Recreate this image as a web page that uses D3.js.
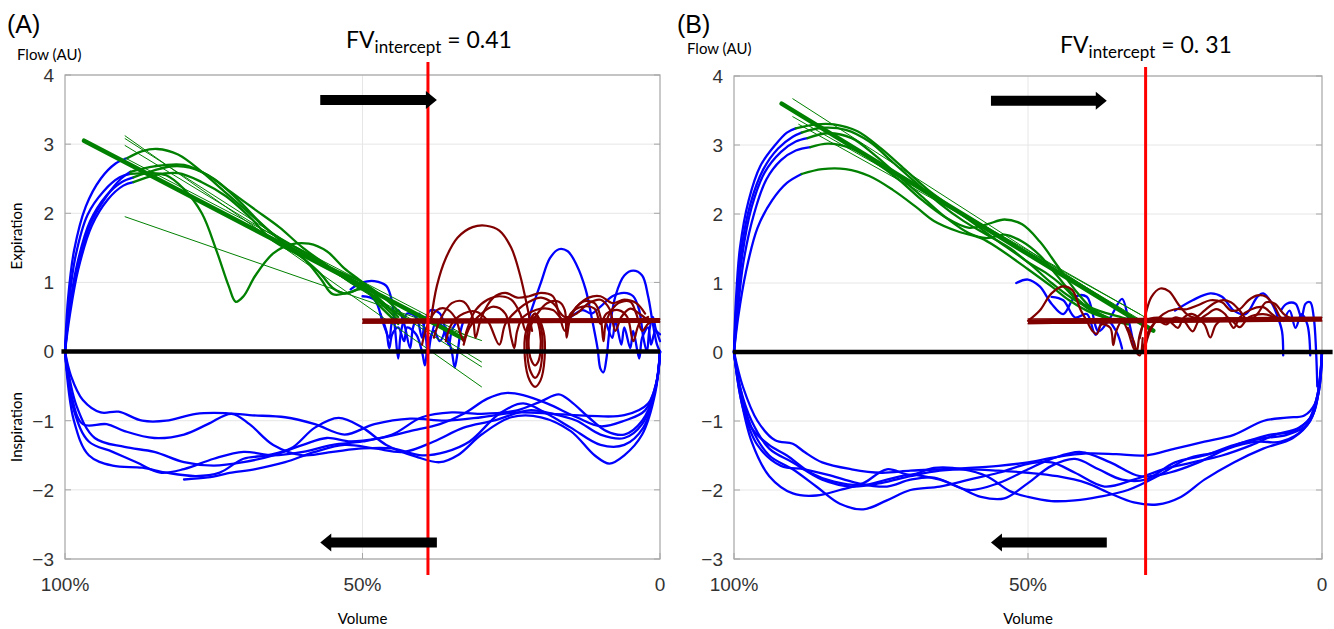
<!DOCTYPE html>
<html>
<head>
<meta charset="UTF-8">
<style>
  body { margin: 0; background: #fff; }
  svg text { font-family: "Liberation Sans", Arial, sans-serif; }
  svg text.cal { font-family: Lato, "Open Sans", sans-serif; }
</style>
</head>
<body>
<svg id="chart" width="1334" height="629"></svg>
<script src="https://d3js.org/d3.v7.min.js"></script>
<script>
// axes
const flowTicks = [-3, -2, -1, 0, 1, 2, 3, 4];
const volTicks = [1, 0.5, 0];
const volTickLabels = ["100%", "50%", "0"];

// ---------- panel A ----------
const aIntercept = 0.39;
const aTitleValue = "= 0.41";
const aRise = [
  [[1,0],[0.995,0.75],[0.985,1.45],[0.965,2.1],[0.94,2.5],[0.915,2.72],[0.895,2.8]],
  [[1,0],[0.994,0.65],[0.983,1.35],[0.962,1.98],[0.935,2.32],[0.908,2.52],[0.89,2.57]],
  [[1,0],[0.993,0.58],[0.98,1.25],[0.958,1.88],[0.93,2.26],[0.905,2.45],[0.885,2.52]],
  [[1,0],[0.992,0.52],[0.978,1.18],[0.955,1.82],[0.928,2.2],[0.902,2.4],[0.885,2.45]],
  [[1,0],[0.993,0.55],[0.979,1.22],[0.957,1.85],[0.93,2.25],[0.906,2.5],[0.89,2.6]]
];
const aGreen = [
  [[0.895,2.8],[0.87,2.9],[0.845,2.93],[0.81,2.85],[0.77,2.6],[0.73,2.3],[0.69,2.0],[0.65,1.7],[0.6,1.45],[0.55,1.2],[0.5,1.0],[0.46,0.75],[0.43,0.5]],
  [[0.89,2.57],[0.86,2.58],[0.83,2.55],[0.8,2.35],[0.77,2.0],[0.745,1.45],[0.725,0.95],[0.713,0.72],[0.70,0.8],[0.68,1.1],[0.65,1.42],[0.62,1.55],[0.59,1.56],[0.56,1.45],[0.53,1.2],[0.5,1.0],[0.47,0.75],[0.44,0.5]],
  [[0.885,2.52],[0.85,2.62],[0.82,2.68],[0.79,2.66],[0.75,2.5],[0.71,2.2],[0.67,1.85],[0.63,1.55],[0.6,1.35],[0.57,1.12],[0.55,0.92],[0.53,0.84],[0.5,0.9],[0.47,0.7],[0.44,0.45]],
  [[0.885,2.45],[0.85,2.55],[0.81,2.58],[0.77,2.45],[0.73,2.25],[0.69,1.95],[0.65,1.6],[0.6,1.35],[0.57,1.05],[0.55,0.83],[0.52,0.86],[0.5,0.92],[0.47,0.65],[0.44,0.4]],
  [[0.89,2.6],[0.85,2.68],[0.8,2.7],[0.76,2.55],[0.72,2.3],[0.68,2.05],[0.64,1.8],[0.6,1.5],[0.56,1.25],[0.52,1.0],[0.48,0.8],[0.45,0.6],[0.42,0.45]]
];
const aFitThin = [
  [[0.899,3.12],[0.30,-0.51]],
  [[0.899,3.08],[0.30,-0.22]],
  [[0.899,2.98],[0.30,-0.15]],
  [[0.899,2.80],[0.33,0.25]],
  [[0.899,1.95],[0.30,0.16]]
];
const aFitThick = [[0.968,3.05],[0.331,0.19]];
const aBrown = [
  [[0.385,0.45],[0.375,0.95],[0.36,1.35],[0.34,1.65],[0.315,1.8],[0.292,1.82],[0.27,1.75],[0.25,1.5],[0.235,1.1],[0.222,0.6],[0.215,0.3]],
  [[0.40,0.1],[0.39,0.4],[0.375,0.6],[0.36,0.62],[0.345,0.5],[0.335,0.25],[0.33,0.15],[0.325,0.3],[0.31,0.6],[0.29,0.75],[0.27,0.8],[0.25,0.75],[0.235,0.55],[0.225,0.3],[0.21,0.5],[0.19,0.7],[0.17,0.72],[0.16,0.6],[0.157,0.2],[0.15,0.5],[0.13,0.72],[0.11,0.7],[0.1,0.5],[0.095,0.15],[0.09,0.45],[0.07,0.7],[0.05,0.72],[0.04,0.55],[0.03,0.3],[0.02,0.4],[0.01,0.45]],
  [[0.38,0.2],[0.37,0.45],[0.35,0.7],[0.33,0.72],[0.315,0.5],[0.31,0.2],[0.3,0.5],[0.28,0.78],[0.26,0.85],[0.24,0.78],[0.22,0.8],[0.2,0.85],[0.18,0.8],[0.17,0.55],[0.16,0.3],[0.15,0.55],[0.13,0.65],[0.11,0.62],[0.1,0.4],[0.09,0.55],[0.07,0.6],[0.055,0.5],[0.045,0.15],[0.035,0.4],[0.02,0.5]],
  [[0.36,0.15],[0.35,0.4],[0.33,0.55],[0.31,0.58],[0.29,0.45],[0.27,0.1],[0.26,0.4],[0.24,0.6],[0.22,0.72],[0.2,0.78],[0.18,0.7],[0.16,0.5],[0.14,0.55],[0.12,0.7],[0.1,0.75],[0.085,0.62],[0.075,0.3],[0.065,0.5],[0.05,0.62],[0.035,0.55],[0.02,0.45]],
  [[0.33,0.1],[0.32,0.35],[0.30,0.55],[0.28,0.65],[0.26,0.55],[0.25,0.2],[0.245,0.05],[0.24,0.3],[0.23,0.5],[0.2,0.62],[0.18,0.6],[0.16,0.45],[0.14,0.65],[0.12,0.78],[0.1,0.8],[0.08,0.7],[0.06,0.75],[0.04,0.7],[0.025,0.55]]
];
const aBrownLoops = [
  [[0.21,0.55],[0.225,0.3],[0.227,-0.1],[0.219,-0.42],[0.21,-0.51],[0.201,-0.42],[0.194,-0.1],[0.196,0.3]],
  [[0.21,0.55],[0.222,0.3],[0.223,-0.05],[0.217,-0.3],[0.21,-0.38],[0.203,-0.3],[0.198,-0.05],[0.199,0.3]],
  [[0.21,0.5],[0.219,0.3],[0.22,0.0],[0.215,-0.15],[0.21,-0.2],[0.205,-0.15],[0.201,0.0],[0.202,0.3]]
];
const aBrownFitThin = [[[0.5,0.41],[0,0.43]], [[0.5,0.47],[0,0.47]]];
const aBrownFitThick = [[0.5,0.44],[0,0.45]];
const aBlueTail = [
  [[0.52,0.9],[0.5,1.0],[0.48,1.02],[0.46,0.95],[0.45,0.7],[0.445,0.3],[0.44,-0.1],[0.435,0.3],[0.425,0.55],[0.41,0.5],[0.40,0.2],[0.395,0.45],[0.385,0.6],[0.37,0.55],[0.36,0.3],[0.35,0.0],[0.345,-0.23],[0.34,0.0],[0.335,0.3],[0.33,0.45]],
  [[0.5,0.8],[0.48,0.75],[0.465,0.4],[0.455,0.2],[0.45,0.45],[0.44,0.6],[0.43,0.4],[0.42,0.05],[0.415,0.35],[0.405,0.55],[0.395,0.3],[0.39,-0.05],[0.385,0.2],[0.375,0.45],[0.365,0.35],[0.355,0.1],[0.35,0.3],[0.34,0.45]],
  [[0.47,0.55],[0.46,0.3],[0.455,0.05],[0.45,0.25],[0.44,0.35],[0.43,0.15],[0.425,0.35],[0.41,0.25],[0.40,0.0],[0.395,-0.2],[0.39,0.1],[0.38,0.3],[0.37,0.15],[0.36,0.35]],
  [[0.22,0.5],[0.2,1.0],[0.185,1.35],[0.17,1.48],[0.155,1.45],[0.14,1.25],[0.125,0.9],[0.115,0.5],[0.105,0.05],[0.1,-0.25],[0.095,-0.3],[0.09,-0.1],[0.085,0.3],[0.075,0.8],[0.06,1.1],[0.045,1.17],[0.03,1.1],[0.02,0.8],[0.012,0.4],[0.005,0.1],[0.0,0.0]],
  [[0.15,0.5],[0.13,0.6],[0.115,0.55],[0.1,0.65],[0.08,0.8],[0.06,0.85],[0.045,0.8],[0.035,0.6],[0.028,0.2],[0.022,0.0],[0.018,0.3],[0.012,0.5],[0.006,0.3],[0.0,0.25]],
  [[0.09,0.4],[0.08,0.2],[0.075,0.45],[0.065,0.1],[0.06,0.35],[0.05,0.05],[0.045,0.3],[0.035,-0.1],[0.03,0.2],[0.02,0.35],[0.015,0.1],[0.008,0.3],[0.0,0.15]]
];
const aInspiration = [
  [[0,0],[0.005,-0.4],[0.02,-0.75],[0.06,-0.92],[0.12,-0.93],[0.18,-0.9],[0.24,-0.88],[0.3,-0.95],[0.36,-1.0],[0.42,-0.97],[0.48,-1.05],[0.53,-1.2],[0.58,-1.05],[0.63,-0.95],[0.69,-0.92],[0.73,-0.89],[0.78,-0.9],[0.83,-1.0],[0.87,-1.0],[0.91,-0.87],[0.94,-0.88],[0.97,-0.7],[0.99,-0.35],[1,0]],
  [[0,0],[0.006,-0.45],[0.025,-0.85],[0.06,-1.0],[0.1,-1.08],[0.14,-0.95],[0.19,-0.75],[0.23,-0.63],[0.26,-0.6],[0.29,-0.68],[0.33,-0.9],[0.37,-1.05],[0.42,-1.15],[0.47,-1.25],[0.52,-1.3],[0.56,-1.25],[0.6,-1.35],[0.65,-1.5],[0.7,-1.6],[0.75,-1.65],[0.8,-1.6],[0.85,-1.45],[0.9,-1.38],[0.95,-1.25],[0.98,-0.8],[1,0]],
  [[0,0],[0.008,-0.55],[0.03,-1.0],[0.06,-1.2],[0.09,-1.15],[0.12,-0.95],[0.15,-0.72],[0.17,-0.62],[0.2,-0.72],[0.24,-0.85],[0.3,-0.9],[0.35,-0.88],[0.4,-0.95],[0.45,-1.2],[0.5,-1.3],[0.55,-1.35],[0.6,-1.45],[0.65,-1.5],[0.7,-1.45],[0.75,-1.55],[0.8,-1.7],[0.84,-1.75],[0.88,-1.6],[0.92,-1.45],[0.96,-1.3],[0.985,-0.85],[1,0]],
  [[0,0],[0.008,-0.6],[0.03,-1.2],[0.06,-1.5],[0.085,-1.62],[0.11,-1.5],[0.15,-1.15],[0.2,-0.95],[0.25,-0.95],[0.3,-1.2],[0.34,-1.5],[0.37,-1.6],[0.41,-1.52],[0.46,-1.35],[0.5,-1.1],[0.54,-0.96],[0.58,-1.1],[0.62,-1.4],[0.66,-1.5],[0.7,-1.55],[0.74,-1.75],[0.78,-1.8],[0.83,-1.75],[0.87,-1.68],[0.92,-1.65],[0.96,-1.5],[0.985,-1.0],[1,0]],
  [[0,0],[0.007,-0.5],[0.028,-1.1],[0.06,-1.35],[0.1,-1.35],[0.15,-1.1],[0.19,-0.9],[0.23,-0.75],[0.27,-0.9],[0.32,-1.3],[0.36,-1.45],[0.4,-1.5],[0.45,-1.4],[0.5,-1.4],[0.55,-1.45],[0.6,-1.5],[0.65,-1.35],[0.69,-1.05],[0.72,-0.9],[0.76,-1.05],[0.8,-1.2],[0.85,-1.25],[0.9,-1.15],[0.93,-1.05],[0.97,-1.05],[0.99,-0.6],[1,0]],
  [[0,0],[0.007,-0.5],[0.03,-1.05],[0.06,-1.25],[0.1,-1.2],[0.14,-1.0],[0.18,-0.9],[0.22,-0.85],[0.28,-1.0],[0.33,-1.1],[0.38,-1.3],[0.43,-1.45],[0.48,-1.4],[0.53,-1.35],[0.58,-1.45],[0.63,-1.6],[0.68,-1.7],[0.72,-1.75],[0.76,-1.82],[0.8,-1.85]]
];

// ---------- panel B ----------
const bIntercept = 0.30;
const bTitleValue = "= 0. 31";
const bRise = [
  [[1,0],[0.997,0.7],[0.99,1.5],[0.975,2.2],[0.955,2.7],[0.93,3.0],[0.91,3.18],[0.895,3.24]],
  [[1,0],[0.996,0.65],[0.988,1.45],[0.972,2.15],[0.95,2.65],[0.925,2.95],[0.9,3.12],[0.885,3.18]],
  [[1,0],[0.995,0.6],[0.986,1.4],[0.97,2.1],[0.948,2.6],[0.92,2.9],[0.895,3.05],[0.875,3.1]],
  [[1,0],[0.994,0.55],[0.984,1.3],[0.966,2.0],[0.945,2.5],[0.92,2.78],[0.895,2.92],[0.87,2.97]],
  [[1,0],[0.993,0.5],[0.98,1.15],[0.96,1.8],[0.935,2.2],[0.91,2.45],[0.885,2.58]]
];
const bGreen = [
  [[0.895,3.24],[0.86,3.3],[0.83,3.3],[0.79,3.2],[0.75,2.95],[0.71,2.65],[0.67,2.35],[0.63,2.1],[0.59,1.85],[0.55,1.6],[0.5,1.3],[0.46,1.0],[0.42,0.75],[0.38,0.6],[0.34,0.5],[0.32,0.45]],
  [[0.885,3.18],[0.85,3.25],[0.81,3.22],[0.77,3.05],[0.73,2.75],[0.69,2.45],[0.65,2.15],[0.61,1.9],[0.57,1.7],[0.53,1.5],[0.5,1.3],[0.47,1.15],[0.44,0.95],[0.41,0.7],[0.37,0.5],[0.33,0.4]],
  [[0.875,3.1],[0.84,3.17],[0.8,3.1],[0.76,2.85],[0.72,2.55],[0.68,2.25],[0.64,1.95],[0.6,1.72],[0.57,1.65],[0.54,1.7],[0.51,1.6],[0.48,1.4],[0.45,1.1],[0.42,0.8],[0.39,0.6],[0.35,0.45]],
  [[0.87,2.97],[0.84,3.02],[0.8,2.95],[0.76,2.75],[0.72,2.5],[0.68,2.2],[0.64,1.95],[0.6,1.8],[0.57,1.85],[0.54,1.92],[0.51,1.85],[0.48,1.6],[0.45,1.25],[0.42,0.9],[0.39,0.62],[0.36,0.48]],
  [[0.885,2.58],[0.85,2.65],[0.81,2.65],[0.77,2.55],[0.73,2.35],[0.69,2.1],[0.66,1.9],[0.62,1.75],[0.58,1.65],[0.55,1.5],[0.5,1.2],[0.46,0.95],[0.43,0.75],[0.4,0.6],[0.37,0.5]]
];
const bFitThin = [
  [[0.90,3.67],[0.29,0.33]],
  [[0.91,3.55],[0.30,0.42]],
  [[0.90,3.41],[0.30,0.5]],
  [[0.89,3.3],[0.31,0.55]]
];
const bFitThick = [[0.919,3.6],[0.287,0.31]];
const bBrown = [
  [[0.31,0.2],[0.3,0.55],[0.29,0.8],[0.275,0.92],[0.26,0.88],[0.245,0.7],[0.23,0.55],[0.215,0.5],[0.2,0.6],[0.185,0.7],[0.17,0.75],[0.155,0.72],[0.14,0.6],[0.125,0.45],[0.11,0.55],[0.095,0.72],[0.08,0.7],[0.065,0.55],[0.05,0.48],[0.03,0.45]],
  [[0.3,0.1],[0.29,0.35],[0.27,0.55],[0.25,0.62],[0.23,0.62],[0.21,0.68],[0.19,0.75],[0.17,0.72],[0.155,0.6],[0.14,0.62],[0.125,0.75],[0.11,0.82],[0.095,0.8],[0.08,0.65],[0.07,0.5],[0.05,0.45]],
  [[0.305,0.0],[0.295,0.3],[0.28,0.45],[0.265,0.4],[0.25,0.5],[0.235,0.45],[0.22,0.3],[0.21,0.45],[0.195,0.55],[0.18,0.62],[0.165,0.55],[0.15,0.35],[0.14,0.5],[0.12,0.62],[0.1,0.65],[0.085,0.55],[0.07,0.45]],
  [[0.5,0.45],[0.48,0.6],[0.46,0.85],[0.44,0.95],[0.425,0.9],[0.41,0.6],[0.4,0.45],[0.39,0.3],[0.383,0.26],[0.375,0.4],[0.36,0.35],[0.355,0.1],[0.35,0.3],[0.34,0.45],[0.33,0.3],[0.32,0.05],[0.31,-0.05],[0.305,0.2]],
  [[0.33,0.35],[0.32,0.15],[0.315,0.0],[0.31,0.25],[0.3,0.45],[0.28,0.5],[0.26,0.45],[0.245,0.35],[0.235,0.5],[0.22,0.55],[0.2,0.4],[0.19,0.21],[0.18,0.4],[0.16,0.5],[0.14,0.36],[0.125,0.5],[0.1,0.55],[0.08,0.5]]
];
const bBrownLoops = [];
const bBrownFitThin = [[[0.5,0.48],[0,0.5]], [[0.5,0.41],[0,0.45]]];
const bBrownFitThick = [[0.5,0.44],[0,0.48]];
const bBlueTail = [
  [[0.52,1.0],[0.5,1.05],[0.48,0.95],[0.46,0.7],[0.44,0.55],[0.42,0.8],[0.40,0.8],[0.38,0.3],[0.36,0.5],[0.34,0.77],[0.33,0.5],[0.32,0.1]],
  [[0.46,0.8],[0.44,0.75],[0.42,0.5],[0.4,0.55],[0.385,0.25],[0.37,0.5],[0.35,0.3],[0.34,0.05]],
  [[0.25,0.6],[0.22,0.75],[0.19,0.85],[0.17,0.8],[0.15,0.6],[0.13,0.55],[0.11,0.8],[0.1,0.85],[0.085,0.7],[0.075,0.5],[0.068,0.3],[0.066,-0.05]],
  [[0.07,0.6],[0.06,0.7],[0.045,0.7],[0.035,0.5],[0.028,0.7],[0.02,0.72],[0.014,0.5],[0.01,0.0],[0.008,-0.5]],
  [[0.065,0.45],[0.055,0.6],[0.045,0.35],[0.035,0.55],[0.025,0.4],[0.02,-0.05]]
];
const bInspiration = [
  [[0,0],[0.004,-0.4],[0.012,-0.75],[0.03,-0.92],[0.06,-0.95],[0.1,-1.0],[0.15,-1.2],[0.2,-1.3],[0.25,-1.4],[0.3,-1.5],[0.35,-1.48],[0.4,-1.47],[0.45,-1.52],[0.5,-1.6],[0.55,-1.65],[0.6,-1.68],[0.65,-1.7],[0.7,-1.72],[0.75,-1.75],[0.8,-1.7],[0.85,-1.6],[0.88,-1.45],[0.9,-1.33],[0.93,-1.28],[0.96,-1.0],[0.985,-0.5],[1,0]],
  [[0,0],[0.005,-0.5],[0.015,-0.9],[0.04,-1.1],[0.08,-1.2],[0.12,-1.35],[0.17,-1.5],[0.22,-1.6],[0.27,-1.7],[0.32,-1.85],[0.37,-1.95],[0.42,-1.75],[0.46,-1.6],[0.5,-1.62],[0.55,-1.75],[0.6,-1.85],[0.65,-1.95],[0.7,-2.0],[0.74,-2.15],[0.78,-2.28],[0.82,-2.2],[0.86,-1.95],[0.9,-1.7],[0.94,-1.5],[0.97,-1.1],[0.99,-0.5],[1,0]],
  [[0,0],[0.005,-0.55],[0.02,-1.0],[0.05,-1.25],[0.1,-1.4],[0.15,-1.6],[0.2,-1.85],[0.24,-2.1],[0.28,-2.21],[0.32,-2.18],[0.36,-2.05],[0.4,-1.9],[0.45,-1.8],[0.5,-1.75],[0.55,-1.72],[0.6,-1.7],[0.65,-1.72],[0.7,-1.8],[0.75,-1.9],[0.8,-1.95],[0.85,-1.85],[0.9,-1.6],[0.94,-1.4],[0.97,-1.0],[0.99,-0.5],[1,0]],
  [[0,0],[0.006,-0.6],[0.025,-1.05],[0.06,-1.2],[0.1,-1.25],[0.15,-1.35],[0.2,-1.5],[0.25,-1.6],[0.3,-1.85],[0.34,-1.85],[0.38,-1.7],[0.42,-1.55],[0.46,-1.65],[0.5,-1.9],[0.54,-2.12],[0.58,-2.1],[0.62,-1.95],[0.66,-1.82],[0.7,-1.85],[0.74,-1.95],[0.79,-1.9],[0.84,-1.78],[0.88,-1.7],[0.92,-1.65],[0.96,-1.35],[0.985,-0.8],[1,0]],
  [[0,0],[0.006,-0.55],[0.02,-0.95],[0.05,-1.15],[0.09,-1.2],[0.13,-1.3],[0.18,-1.45],[0.23,-1.55],[0.28,-1.8],[0.33,-2.0],[0.38,-2.1],[0.42,-2.15],[0.46,-2.16],[0.5,-2.1],[0.53,-2.02],[0.57,-1.8],[0.61,-1.7],[0.66,-1.68],[0.7,-1.78],[0.74,-1.7],[0.78,-1.9],[0.82,-2.0],[0.86,-2.08],[0.9,-2.05],[0.94,-1.8],[0.97,-1.3],[0.99,-0.6],[1,0]],
  [[0,0],[0.007,-0.6],[0.03,-1.1],[0.07,-1.3],[0.11,-1.3],[0.16,-1.4],[0.21,-1.6],[0.26,-1.75],[0.31,-1.8],[0.36,-1.6],[0.41,-1.45],[0.46,-1.55],[0.5,-1.7],[0.55,-1.9],[0.6,-2.0],[0.65,-1.85],[0.7,-1.78],[0.74,-1.85],[0.78,-1.93],[0.83,-1.88],[0.87,-1.75],[0.91,-1.5],[0.94,-1.35],[0.97,-1.1],[0.99,-0.55],[1,0]]
];

// arrow spans (volume from -> to) and flow levels
const aArrowTop = [0.571, 0.375], aArrowBottom = [0.375, 0.571];
const bArrowTop = [0.563, 0.366], bArrowBottom = [0.366, 0.563];
const arrowLevels = [3.64, -2.76];

const BLUE = "#0000ff", GREEN = "#008000", BROWN = "#800000";
const svg = d3.select("#chart");

function drawPanel(p) {
  const x = d3.scaleLinear().domain([1, 0]).range([p.left, p.right]);
  const y = d3.scaleLinear().domain([-3, 4]).range([p.bottom, p.top]);
  const g = svg.append("g");
  const line = d3.line().x(d => x(d[0])).y(d => y(d[1])).curve(d3.curveCatmullRom.alpha(0.5));
  const loop = d3.line().x(d => x(d[0])).y(d => y(d[1])).curve(d3.curveCatmullRomClosed.alpha(0.5));

  // grid
  g.selectAll(".hgrid").data(flowTicks).join("line")
    .attr("x1", p.left).attr("x2", p.right)
    .attr("y1", d => y(d)).attr("y2", d => y(d))
    .attr("stroke", "#e6e6e6").attr("stroke-width", 1);
  g.append("line").attr("x1", x(0.5)).attr("x2", x(0.5)).attr("y1", p.top).attr("y2", p.bottom)
    .attr("stroke", "#e6e6e6");

  // box + ticks
  g.append("rect").attr("x", p.left).attr("y", p.top)
    .attr("width", p.right - p.left).attr("height", p.bottom - p.top)
    .attr("fill", "none").attr("stroke", "#a6a6a6").attr("stroke-width", 1.2);
  g.selectAll(".ytl").data(flowTicks).join("line")
    .attr("x1", p.left).attr("x2", p.left + 6).attr("y1", d => y(d)).attr("y2", d => y(d)).attr("stroke", "#a6a6a6");
  g.selectAll(".ytr").data(flowTicks).join("line")
    .attr("x1", p.right - 6).attr("x2", p.right).attr("y1", d => y(d)).attr("y2", d => y(d)).attr("stroke", "#a6a6a6");
  g.selectAll(".xtb").data(volTicks).join("line")
    .attr("x1", d => x(d)).attr("x2", d => x(d)).attr("y1", p.bottom).attr("y2", p.bottom - 6).attr("stroke", "#a6a6a6");

  g.selectAll(".ylab").data(flowTicks).join("text")
    .attr("x", p.left - 11).attr("y", d => y(d)).attr("dy", "0.36em")
    .attr("text-anchor", "end").attr("font-size", 19).attr("fill", "#333")
    .text(d => d < 0 ? "\u2212" + Math.abs(d) : d);
  g.selectAll(".xlab").data(volTicks).join("text")
    .attr("x", d => x(d)).attr("y", p.bottom + 32)
    .attr("text-anchor", "middle").attr("font-size", 19).attr("fill", "#333")
    .text((d, i) => volTickLabels[i]);

  const path = (data, color, w, fn) => g.append("g").selectAll("path").data(data).join("path")
    .attr("d", fn || line).attr("fill", "none").attr("stroke", color)
    .attr("stroke-width", w).attr("stroke-linejoin", "round").attr("stroke-linecap", "round");

  path(p.insp, BLUE, 2.3);
  path(p.rise, BLUE, 2.3);
  path(p.tail, BLUE, 2.3);
  path(p.green, GREEN, 2.3);
  path(p.fitThin, GREEN, 1);
  path([p.fitThick], GREEN, 4.5);
  path(p.brown, BROWN, 2.2);
  path(p.loops, BROWN, 2.2, loop);
  path(p.brownThin, BROWN, 1.2);
  path([p.brownThick], BROWN, 5).attr("stroke-linecap", "butt");

  // zero line
  g.append("line").attr("x1", x(p.zeroSpan[0])).attr("x2", x(p.zeroSpan[1]))
    .attr("y1", y(0)).attr("y2", y(0)).attr("stroke", "#000").attr("stroke-width", 4.5);

  // intercept line
  g.append("line").attr("x1", x(p.intercept)).attr("x2", x(p.intercept))
    .attr("y1", p.redTop).attr("y2", p.bottom + 16)
    .attr("stroke", "#ff0000").attr("stroke-width", 3);

  // arrows
  [[p.arrowTop, arrowLevels[0]], [p.arrowBottom, arrowLevels[1]]].forEach(([span, lvl]) => {
    const x0 = x(span[0]), x1 = x(span[1]), yy = y(lvl);
    const dir = x1 > x0 ? 1 : -1, xh = x1 - dir * 11;
    const pt = d3.path();
    pt.moveTo(x0, yy - 5); pt.lineTo(xh, yy - 5); pt.lineTo(xh, yy - 9); pt.lineTo(x1, yy);
    pt.lineTo(xh, yy + 9); pt.lineTo(xh, yy + 5); pt.lineTo(x0, yy + 5); pt.closePath();
    g.append("path").attr("d", pt.toString()).attr("fill", "#000");
  });

  // labels
  g.append("text").attr("x", p.labelX).attr("y", 33).attr("font-size", 25).text(p.letter);
  g.append("text").attr("class", "cal").attr("x", p.labelX + 10).attr("y", p.flowY)
    .attr("font-size", 15).text("Flow (AU)");
  g.append("text").attr("class", "cal").attr("x", x(0.5)).attr("y", 624)
    .attr("text-anchor", "middle").attr("font-size", 15).text("Volume");
  const t = g.append("text").attr("class", "cal").attr("x", p.titleX).attr("y", p.titleY).attr("font-size", 23);
  t.append("tspan").text("FV");
  t.append("tspan").attr("font-size", 17).attr("dy", 5).text("intercept");
  t.append("tspan").attr("dy", -5).text(" " + p.titleValue);
  return { x, y, g };
}

const pa = drawPanel({
  left: 65, right: 660, top: 75, bottom: 559, letter: "(A)", labelX: 7, flowY: 60,
  titleX: 346, titleY: 48, titleValue: aTitleValue, intercept: aIntercept, redTop: 62,
  insp: aInspiration, rise: aRise, tail: aBlueTail, green: aGreen, fitThin: aFitThin, fitThick: aFitThick,
  brown: aBrown, loops: aBrownLoops, brownThin: aBrownFitThin, brownThick: aBrownFitThick,
  zeroSpan: [1.006, 0], arrowTop: aArrowTop, arrowBottom: aArrowBottom
});
pa.g.append("text").attr("class", "cal").attr("transform", "translate(22,236) rotate(-90)")
  .attr("text-anchor", "middle").attr("font-size", 15).text("Expiration");
pa.g.append("text").attr("class", "cal").attr("transform", "translate(22,427) rotate(-90)")
  .attr("text-anchor", "middle").attr("font-size", 15).text("Inspiration");

drawPanel({
  left: 734, right: 1322, top: 76, bottom: 559, letter: "(B)", labelX: 677, flowY: 54,
  titleX: 1060, titleY: 53, titleValue: bTitleValue, intercept: bIntercept, redTop: 67,
  insp: bInspiration, rise: bRise, tail: bBlueTail, green: bGreen, fitThin: bFitThin, fitThick: bFitThick,
  brown: bBrown, loops: bBrownLoops, brownThin: bBrownFitThin, brownThick: bBrownFitThick,
  zeroSpan: [1.002, -0.018], arrowTop: bArrowTop, arrowBottom: bArrowBottom
});
</script>
</body>
</html>
